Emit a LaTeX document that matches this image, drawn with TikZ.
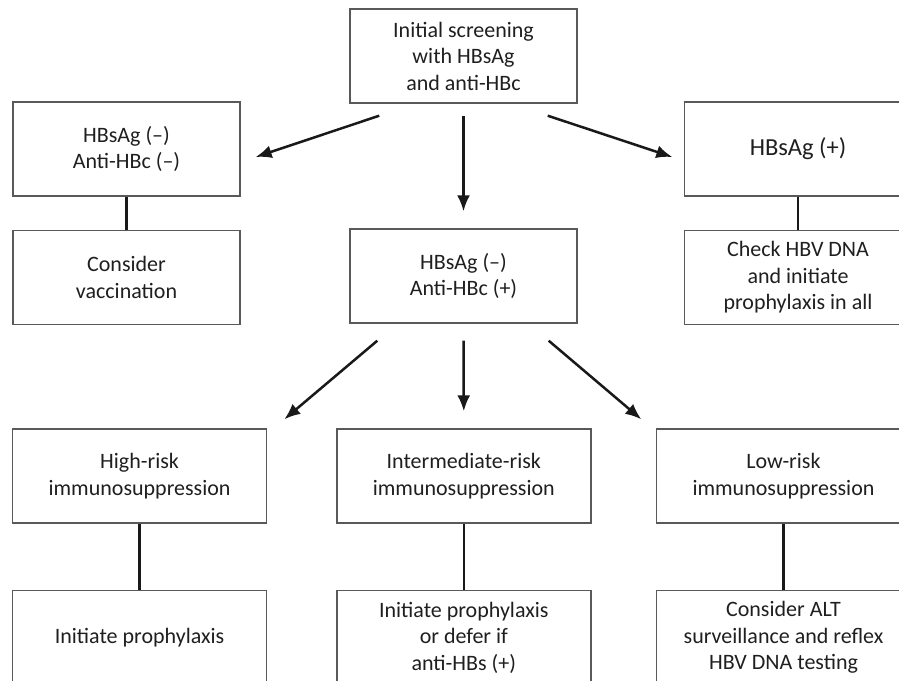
\documentclass[tikz,border=0pt]{standalone}
\usepackage{fontspec}
\setmainfont{Carlito}
\usetikzlibrary{positioning,arrows.meta}
\tikzset{>={Latex[length=16pt,width=13pt]}}

\begin{document}
\begin{tikzpicture}[x=1pt,y=1pt,
  box/.style={draw=black!65, line width=1.4pt, align=center, text=black!88,
    minimum width=227pt, minimum height=94pt, inner sep=2pt,
    font=\fontsize{22}{26.5}\selectfont},
  riskbox/.style={box, minimum width=254pt},
  arr/.style={->, line width=2.5pt, black!90},
  link/.style={line width=2.5pt, black!90}]

  \clip (0,0) rectangle (899,-680);

  % Nodes
  \node[box]                        (screen) at (463.5,-56) {Initial screening\\with HBsAg\\and anti-HBc};
  \node[box]                        (neg)    at (126.5,-149) {HBsAg (–)\\Anti-HBc (–)};
  \node[box, below=33pt of neg]     (vacc)   {Consider\\vaccination};
  \node[box, font=\fontsize{24.5}{29}\selectfont] (pos) at (798,-149) {HBsAg (+)};
  \node[box, below=33pt of pos]     (dna)    {Check HBV DNA\\and initiate\\prophylaxis in all};
  \node[box]                        (core)   at (463.5,-276) {HBsAg (–)\\Anti-HBc (+)};

  \node[riskbox]                    (high)   at (139.6,-476) {High-risk\\immunosuppression};
  \node[riskbox]                    (inter)  at (463.8,-476) {Intermediate-risk\\immunosuppression};
  \node[riskbox]                    (low)    at (783.5,-476) {Low-risk\\immunosuppression};
  \node[riskbox, below=66pt of high]  (highact)  {Initiate prophylaxis};
  \node[riskbox, below=66pt of inter] (interact) {Initiate prophylaxis\\or defer if\\anti-HBs (+)};
  \node[riskbox, below=66pt of low]   (lowact)   {Consider ALT\\surveillance and reflex\\HBV DNA testing};

  % Edges
  \draw[arr] ([xshift=30pt,yshift=-12pt]screen.south west) -- ([xshift=15pt,yshift=-8pt]neg.east);
  \draw[arr] ([yshift=-12pt]screen.south) -- ([yshift=17pt]core.north);
  \draw[arr] ([xshift=-30pt,yshift=-12pt]screen.south east) -- ([xshift=-11.5pt,yshift=-8pt]pos.west);

  \draw[arr] ([xshift=28pt,yshift=-17pt]core.south west) -- ([xshift=17pt,yshift=9pt]high.north east);
  \draw[arr] ([yshift=-17pt]core.south) -- ([yshift=17pt]inter.north);
  \draw[arr] ([xshift=-29pt,yshift=-17pt]core.south east) -- ([xshift=-14.5pt,yshift=9pt]low.north west);

  \draw[link] (neg) -- (vacc);
  \draw[link] (pos) -- (dna);
  \draw[link] (high) -- (highact);
  \draw[link] (inter) -- (interact);
  \draw[link] (low) -- (lowact);
\end{tikzpicture}
\end{document}
